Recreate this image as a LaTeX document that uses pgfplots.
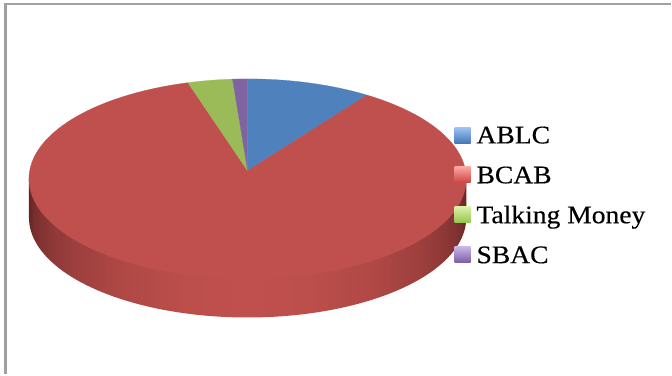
\documentclass[border=0pt]{standalone}
\usepackage{pgfplots}
\pgfplotsset{compat=1.18}
\usepackage{fontspec}
\setmainfont{Liberation Serif}[FakeStretch=1.09, FakeBold=0.4]
\definecolor{ablc}{RGB}{79,129,189}
\definecolor{bcab}{RGB}{192,80,77}
\definecolor{tm}{RGB}{155,187,89}
\definecolor{sbac}{RGB}{128,100,162}
\definecolor{ablcL}{RGB}{160,196,245}
\definecolor{ablcD}{RGB}{70,120,185}
\definecolor{bcabL}{RGB}{252,165,162}
\definecolor{bcabD}{RGB}{205,65,62}
\definecolor{tmL}{RGB}{218,242,165}
\definecolor{tmD}{RGB}{150,195,75}
\definecolor{sbacL}{RGB}{200,180,232}
\definecolor{sbacD}{RGB}{122,92,162}
\definecolor{sidedark}{RGB}{100,37,37}
\definecolor{framegray}{RGB}{160,160,160}
\pgfdeclarehorizontalshading{sidewall}{100bp}{%
  color(0bp)=(sidedark); color(25bp)=(sidedark);
  color(25.5bp)=(bcab!20!sidedark); color(26.25bp)=(bcab!31!sidedark);
  color(27.5bp)=(bcab!44!sidedark); color(30bp)=(bcab!60!sidedark);
  color(35bp)=(bcab!80!sidedark); color(42.5bp)=(bcab!95!sidedark);
  color(50bp)=(bcab);
  color(57.5bp)=(bcab!95!sidedark); color(65bp)=(bcab!80!sidedark);
  color(70bp)=(bcab!60!sidedark); color(72.5bp)=(bcab!44!sidedark);
  color(73.75bp)=(bcab!31!sidedark); color(74.5bp)=(bcab!20!sidedark);
  color(75bp)=(sidedark); color(100bp)=(sidedark)}
\begin{document}
\begin{tikzpicture}
% shares in percent
\pgfmathsetmacro\vA{9.2}  % ABLC
\pgfmathsetmacro\vB{86.4} % BCAB
\pgfmathsetmacro\vC{3.3}  % Talking Money
\pgfmathsetmacro\vD{1.1}  % SBAC
\pgfmathsetmacro\aA{90}
\pgfmathsetmacro\aB{\aA-3.6*\vA}
\pgfmathsetmacro\aC{\aB-3.6*\vB}
\pgfmathsetmacro\aD{\aC-3.6*\vC}
\pgfmathsetmacro\aE{\aD-3.6*\vD}
\begin{axis}[
  scale only axis, width=504pt, height=281.25pt,
  xmin=0, xmax=672, ymin=0, ymax=375, y dir=reverse,
  hide axis, clip=false,
  legend cell align=left,
  legend style={at={(axis cs:455,123.3)}, anchor=north west, draw=none, fill=none,
    inner sep=0pt, row sep=12.5pt,
    font=\fontsize{19}{23}\selectfont,
    nodes={inner sep=0pt, text height=15pt, text depth=2.5pt},
    /tikz/every odd column/.style={column sep=4.5pt}},
]
\path (axis cs:0,0) rectangle (axis cs:672,375);
% frame
\addplot[forget plot, framegray, line width=1.6pt] coordinates {(5.5,375) (5.5,4) (672,4)};
% side wall
\addplot[forget plot, draw=none, shading=sidewall,
  domain=180:360, samples=90, variable=\t]
  ({248+219*cos(\t)},{218-100*sin(\t)}) -- (axis cs:467,179) -- (axis cs:29,179) -- cycle;
% top face slices
\addplot[forget plot, fill=ablc, draw=ablc, line width=0.2pt, domain=\aB:\aA, samples=30, variable=\t]
  ({248+219*cos(\t)},{179-100*sin(\t)}) -- (axis cs:248,171) -- cycle;
\addplot[forget plot, fill=bcab, draw=bcab, line width=0.2pt, domain=\aC:\aB, samples=150, variable=\t]
  ({248+219*cos(\t)},{179-100*sin(\t)}) -- (axis cs:248,171) -- cycle;
\addplot[forget plot, fill=tm, draw=tm, line width=0.2pt, domain=\aD:\aC, samples=10, variable=\t]
  ({248+219*cos(\t)},{179-100*sin(\t)}) -- (axis cs:248,171) -- cycle;
\addplot[forget plot, fill=sbac, draw=sbac, line width=0.2pt, domain=\aE:\aD, samples=5, variable=\t]
  ({248+219*cos(\t)},{179-100*sin(\t)}) -- (axis cs:248,171) -- cycle;
% legend
\addlegendimage{draw=none, legend image code/.code={\path[draw=none, top color=ablcL, bottom color=ablcD] (0pt,-6pt) rectangle (12pt,6pt);}}
\addlegendentry{ABLC}
\addlegendimage{draw=none, legend image code/.code={\path[draw=none, top color=bcabL, bottom color=bcabD] (0pt,-6pt) rectangle (12pt,6pt);}}
\addlegendentry{BCAB}
\addlegendimage{draw=none, legend image code/.code={\path[draw=none, top color=tmL, bottom color=tmD] (0pt,-6pt) rectangle (12pt,6pt);}}
\addlegendentry{Talking Money}
\addlegendimage{draw=none, legend image code/.code={\path[draw=none, top color=sbacL, bottom color=sbacD] (0pt,-6pt) rectangle (12pt,6pt);}}
\addlegendentry{SBAC}
\end{axis}
\end{tikzpicture}
\end{document}
